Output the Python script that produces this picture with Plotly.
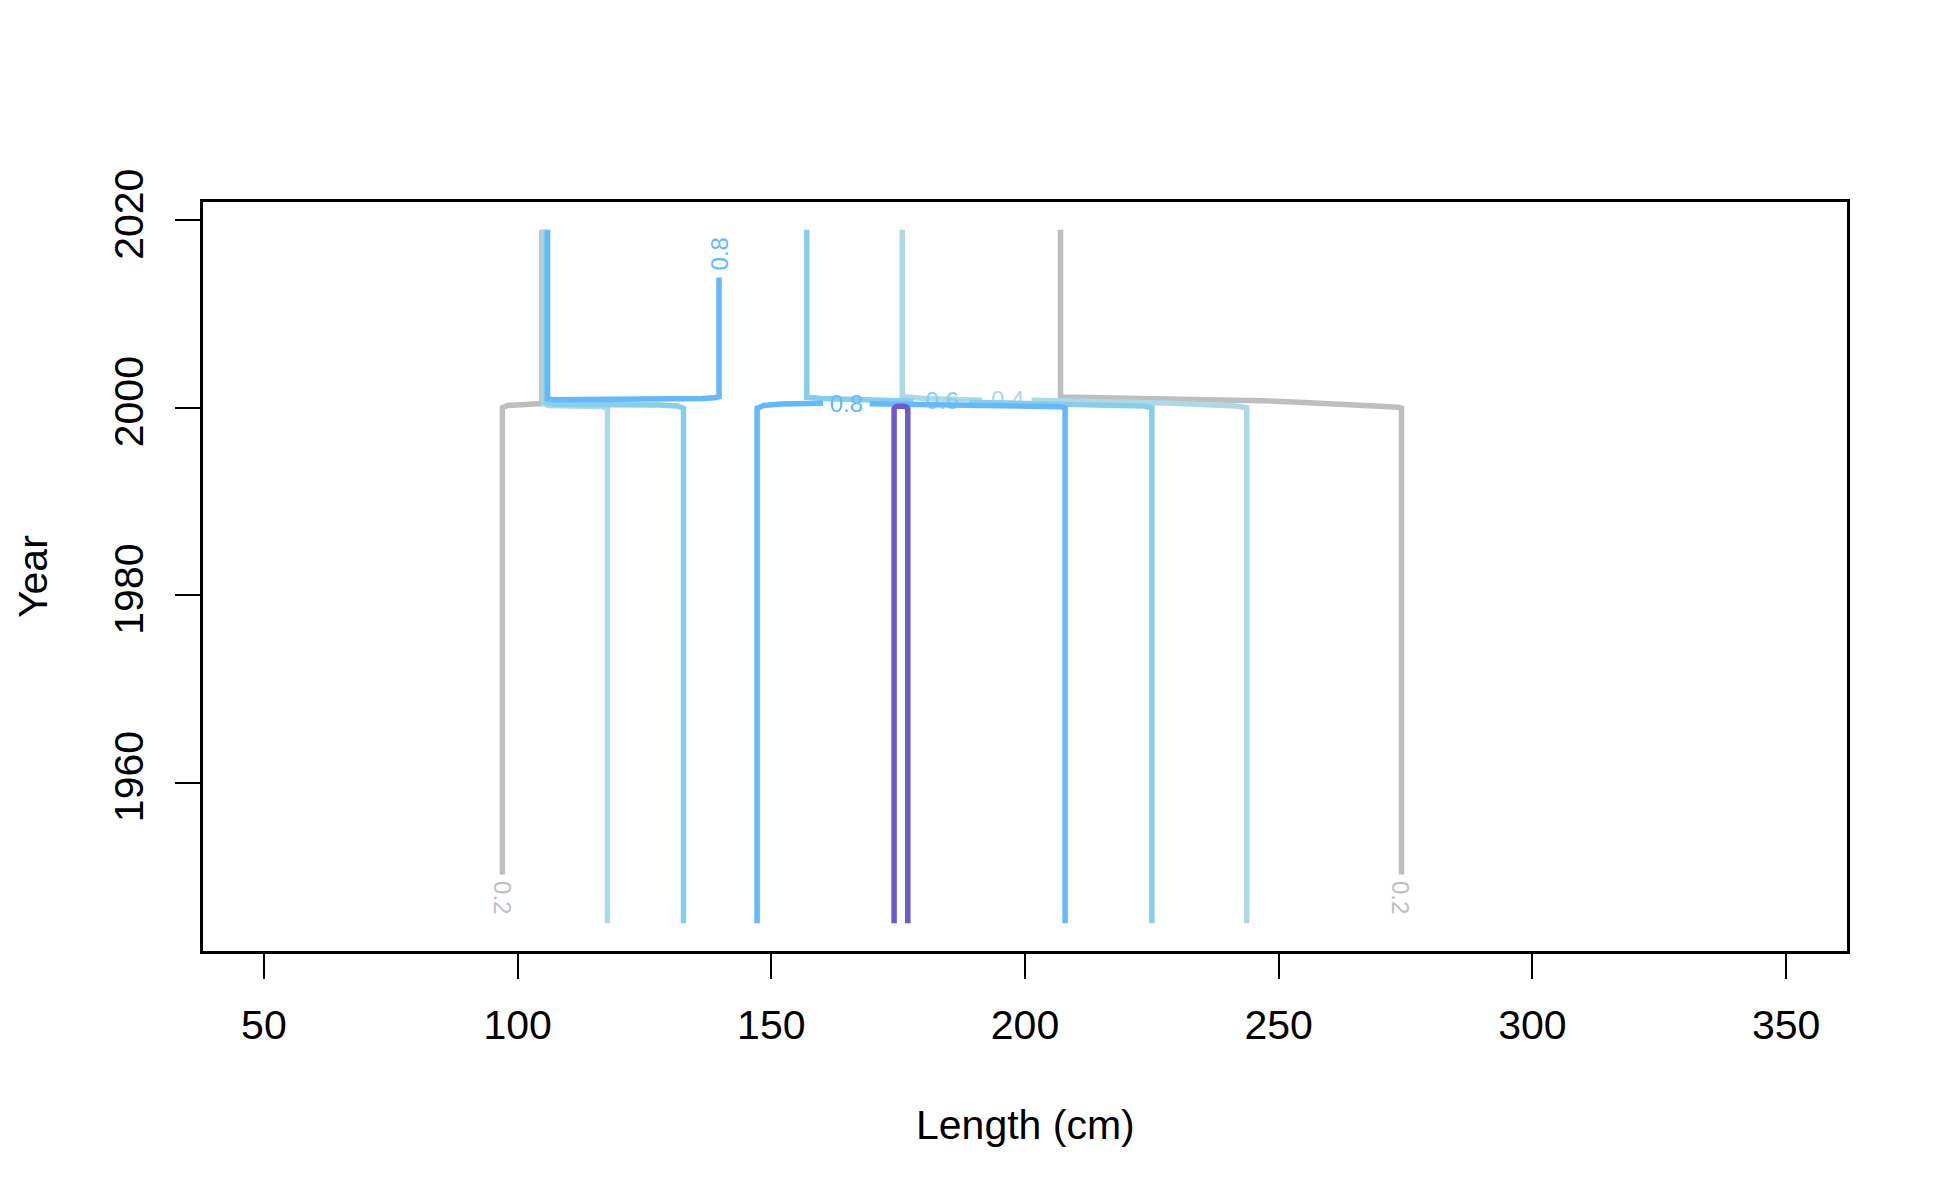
import plotly.graph_objects as go

# ---------------- data ----------------
LEVELS = [0.2, 0.4, 0.6, 0.8, 1.0]

# contour line vertices (Length cm, Year); None separates line pieces / label gaps
len_02 = [97.0, 97.0, 98.0, 101.0, 104.8, 104.8, None,
          207.0, 207.0, 215.0, 223.0, 234.8, 246.6, 254.1, 261.0, 267.3, 271.6, 273.6, 274.2, 274.2]
year_02 = [1950.2, 2000.0, 2000.25, 2000.35, 2000.45, 2019.0, None,
           2019.0, 2001.15, 2001.08, 2001.02, 2000.88, 2000.76, 2000.6, 2000.42, 2000.28, 2000.14, 2000.05, 1999.95, 1950.2]

len_04 = [117.7, 117.7, 116.5, 110.0, 106.0, 105.2, 105.2, None,
          175.8, 175.8, 180.0, 185.0, 191.5, None,
          201.3, 210.0, 220.0, 228.0, 236.0, 241.5, 243.7, 243.7]
year_04 = [1945.0, 1999.95, 2000.15, 2000.2, 2000.25, 2000.45, 2019.0, None,
           2019.0, 2001.2, 2001.0, 2000.88, 2000.8, None,
           2000.8, 2000.72, 2000.65, 2000.5, 2000.32, 2000.2, 2000.0, 1945.0]

len_06 = [132.7, 132.7, 131.5, 128.0, 118.0, 107.0, 105.6, 105.6, None,
          157.0, 157.0, 160.0, 170.0, 178.0, None,
          189.0, 200.0, 210.0, 218.0, 223.5, 225.0, 225.0]
year_06 = [1945.0, 1999.95, 2000.2, 2000.3, 2000.33, 2000.38, 2000.55, 2019.0, None,
           2019.0, 2001.13, 2001.0, 2000.85, 2000.7, None,
           2000.6, 2000.5, 2000.38, 2000.27, 2000.18, 2000.0, 1945.0]

len_08 = [105.9, 105.9, 107.0, 120.0, 134.0, 136.5, 138.8, 139.7, 139.7, None,
          147.2, 147.2, 148.5, 152.0, 160.2, None,
          169.4, 180.0, 195.0, 204.0, 207.0, 207.9, 207.9]
year_08 = [2019.0, 2001.0, 2000.87, 2000.87, 2000.9, 2001.0, 2001.08, 2001.2, 2013.9, None,
           1945.0, 1999.95, 2000.25, 2000.4, 2000.48, None,
           2000.42, 2000.35, 2000.28, 2000.22, 2000.12, 2000.0, 1945.0]

len_10 = [174.2, 174.2, 174.5, 175.0, 176.1, 176.6, 176.9, 176.9]
year_10 = [1945.0, 1999.9, 2000.1, 2000.17, 2000.17, 2000.1, 1999.9, 1945.0]

CONTOUR_LEN = [len_02, len_04, len_06, len_08, len_10]
CONTOUR_YEAR = [year_02, year_04, year_06, year_08, year_10]

# in-line contour labels
lab_text = ["0.2", "0.2", "0.8", "0.8", "0.6", "0.4"]
lab_level = [0.2, 0.2, 0.8, 0.8, 0.6, 0.4]
lab_len = [96.9, 273.9, 139.85, 164.8, 183.7, 196.6]
lab_year = [1947.7, 1947.7, 2016.45, 2000.17, 2000.5, 2000.63]
lab_vertical = [True, True, True, False, False, False]

X_TICKS = [50, 100, 150, 200, 250, 300, 350]
Y_TICKS = [1960, 1980, 2000, 2020]

# ---------------- style ----------------
COLORS = {0.2: "#BEBEBE", 0.4: "#ADD8E6", 0.6: "#87CEEB", 0.8: "#63B8FF", 1.0: "#6A5ACD"}
ROT = {(True, 0.2): 90, (True, 0.8): -90}
FONT = "Arial, Liberation Sans, sans-serif"
LW = 5.5

fig = go.Figure()
for lev, xs, ys in zip(LEVELS, CONTOUR_LEN, CONTOUR_YEAR):
    fig.add_trace(go.Scatter(x=xs, y=ys, mode="lines", connectgaps=False,
                             line=dict(color=COLORS[lev], width=LW),
                             hoverinfo="skip", showlegend=False))
    # horizontal labels of this level (drawn in level order like R)
    tx = [l for l, v, lv in zip(lab_len, lab_vertical, lab_level) if lv == lev and not v]
    ty = [y for y, v, lv in zip(lab_year, lab_vertical, lab_level) if lv == lev and not v]
    tt = [t for t, v, lv in zip(lab_text, lab_vertical, lab_level) if lv == lev and not v]
    if tt:
        fig.add_trace(go.Scatter(x=tx, y=ty, text=tt, mode="text",
                                 textposition="middle center",
                                 textfont=dict(family=FONT, size=24, color=COLORS[lev]),
                                 hoverinfo="skip", showlegend=False))

annotations = []
for t, lev, x, y, v in zip(lab_text, lab_level, lab_len, lab_year, lab_vertical):
    if v:
        annotations.append(dict(x=x, y=y, xref="x", yref="y", text=t, showarrow=False,
                                textangle=ROT[(True, lev)],
                                font=dict(family=FONT, size=24, color=COLORS[lev])))

annotations.append(dict(text="Length (cm)", xref="paper", yref="paper", x=0.5, y=-0.2323,
                        xanchor="center", yanchor="middle", showarrow=False,
                        font=dict(family=FONT, size=41, color="black")))
annotations.append(dict(text="Year", xref="paper", yref="paper", x=-0.1037, y=0.5,
                        xanchor="center", yanchor="middle", showarrow=False, textangle=-90,
                        font=dict(family=FONT, size=41, color="black")))

axis_common = dict(showgrid=False, zeroline=False, showline=True, mirror=True,
                   linecolor="black", linewidth=3, ticks="outside", ticklen=25,
                   tickwidth=2, tickcolor="black",
                   tickfont=dict(family=FONT, size=41, color="black"))

fig.update_layout(
    width=1950, height=1200,
    margin=dict(l=195, r=111, t=194, b=257),
    paper_bgcolor="white", plot_bgcolor="white",
    xaxis=dict(range=[38, 362], tickvals=X_TICKS, ticklabelstandoff=11, **axis_common),
    yaxis=dict(range=[1942.04, 2021.96], tickvals=Y_TICKS, tickangle=-90,
               ticklabelstandoff=16, **axis_common),
    annotations=annotations,
)

fig.write_html("out.html")
